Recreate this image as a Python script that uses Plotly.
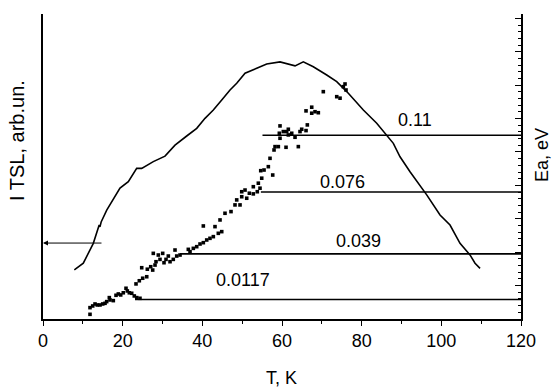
import plotly.graph_objects as go

# TSL glow curve (left axis, arbitrary units)
tsl_T = [7.86, 10.12, 12.63, 14.1, 14.3, 14.6, 16.0, 19.33, 21.42, 23.52, 24.78, 27.69, 30.63,
         33.14, 36.08, 38.59, 40.67, 42.76, 44.87, 46.95, 48.63, 50.72, 53.65, 56.16, 59.50,
         62.01, 63.27, 65.35, 67.86, 71.23, 73.74, 76.65, 80.42, 83.78, 86.29, 87.95, 89.63,
         92.14, 96.33, 99.67, 102.18, 104.69, 107.20, 108.46, 109.72]
tsl_I = [0.161, 0.183, 0.248, 0.308, 0.302, 0.318, 0.357, 0.429, 0.450, 0.494, 0.494, 0.516, 0.534,
         0.570, 0.600, 0.625, 0.658, 0.685, 0.718, 0.751, 0.773, 0.806, 0.822, 0.836, 0.843,
         0.833, 0.830, 0.843, 0.827, 0.800, 0.778, 0.740, 0.685, 0.642, 0.603, 0.576, 0.532,
         0.483, 0.407, 0.341, 0.308, 0.248, 0.210, 0.183, 0.166]

# Activation energy points (right axis, eV)
ea_T = [11.80, 11.80, 12.48, 13.06, 13.63, 14.31, 14.99, 15.57, 15.99, 16.82, 16.65, 17.65, 18.33,
        18.91, 19.51, 20.16, 20.84, 21.17, 21.67, 22.27, 22.92, 23.53, 24.35, 23.35, 24.18, 25.03,
        26.04, 24.78, 26.19, 27.04, 27.54, 28.12, 28.37, 27.69, 28.95, 29.37, 30.05, 30.38, 30.88,
        31.46, 31.89, 32.71, 33.14, 33.57, 34.40, 36.48, 36.91, 37.74, 38.59, 39.42, 40.25, 41.10,
        41.92, 42.76, 40.25, 43.18, 44.01, 44.87, 44.44, 45.69, 47.20, 48.20, 49.46, 48.63, 49.89,
        51.14, 49.89, 50.72, 51.80, 52.80, 52.80, 53.80, 54.48, 54.06, 54.91, 55.49, 54.66, 56.57,
        56.99, 57.67, 58.25, 59.08, 58.00, 61.01, 59.50, 59.33, 60.33, 61.18, 61.59, 62.44, 63.27,
        64.10, 59.50, 61.59, 64.52, 64.95, 66.03, 66.36, 66.03, 67.46, 68.29, 69.12, 67.46, 70.37,
        73.74, 74.57, 75.40, 76.07, 75.82]
ea_E = [0.0028, 0.0068, 0.0078, 0.0090, 0.0084, 0.0084, 0.0090, 0.0094, 0.0104, 0.0114, 0.0128,
        0.0110, 0.0142, 0.0150, 0.0144, 0.0157, 0.0184, 0.0168, 0.0157, 0.0154, 0.0138, 0.0128,
        0.0124, 0.0210, 0.0229, 0.0244, 0.0253, 0.0307, 0.0298, 0.0313, 0.0293, 0.0323, 0.0343,
        0.0393, 0.0383, 0.0357, 0.0393, 0.0337, 0.0357, 0.0377, 0.0343, 0.0357, 0.0413, 0.0377,
        0.0383, 0.0417, 0.0403, 0.0423, 0.0433, 0.0449, 0.0457, 0.0473, 0.0483, 0.0493, 0.0557,
        0.0553, 0.0513, 0.0523, 0.0593, 0.0633, 0.0643, 0.0683, 0.0683, 0.0713, 0.0732, 0.0723,
        0.0762, 0.0772, 0.0753, 0.0749, 0.0792, 0.0762, 0.0783, 0.0813, 0.0843, 0.0892, 0.0888,
        0.0912, 0.0962, 0.0862, 0.1032, 0.1032, 0.1012, 0.1028, 0.1082, 0.1112, 0.1122, 0.1122,
        0.1102, 0.1112, 0.1088, 0.1032, 0.1156, 0.1136, 0.1122, 0.1136, 0.1128, 0.1162, 0.1246,
        0.1232, 0.1241, 0.1235, 0.1268, 0.1361, 0.1331, 0.1322, 0.1391, 0.1371, 0.1407]

# Activation energy levels (eV), their labels and where each level line begins (K)
ea_levels = [0.0117, 0.039, 0.076, 0.11]
ea_labels = ["0.0117", "0.039", "0.076", "0.11"]
ea_line_start_T = [23.1, 34.4, 54.7, 55.1]
T_max = 120

# arrow marking the TSL level (left axis)
arrow_I = 0.249
arrow_T_from = 15.06

FONT = "Liberation Sans, Arial, sans-serif"

fig = go.Figure()
fig.add_trace(go.Scatter(x=tsl_T, y=tsl_I, mode="lines",
                         line=dict(color="black", width=1.6), yaxis="y", showlegend=False))
for lvl, start in zip(ea_levels, ea_line_start_T):
    fig.add_trace(go.Scatter(x=[start, T_max], y=[lvl, lvl], mode="lines",
                             line=dict(color="black", width=1.6), yaxis="y2", showlegend=False))
fig.add_trace(go.Scatter(x=ea_T, y=ea_E, mode="markers",
                         marker=dict(symbol="square", size=3.6, color="black", line=dict(width=0)),
                         yaxis="y2", showlegend=False))

# label placement (T, E) relative to the lines
label_pos = {"0.0117": (50.2, 0.0234), "0.039": (79.1, 0.0467),
             "0.076": (75.3, 0.082), "0.11": (93.4, 0.119)}
annotations = []
for lab in ea_labels:
    lx, ly = label_pos[lab]
    annotations.append(dict(x=lx, y=ly, xref="x", yref="y2", text=lab, showarrow=False,
                            font=dict(family=FONT, size=18, color="black"),
                            xanchor="center", yanchor="middle"))
annotations.append(dict(x=0, y=arrow_I, xref="x", yref="y", ax=arrow_T_from, ay=arrow_I,
                        axref="x", ayref="y", text="", showarrow=True, arrowhead=2,
                        arrowsize=1, arrowwidth=1, arrowcolor="black"))
annotations.append(dict(x=(17 - 43) / 478, y=(319 - 141) / 305, xref="paper", yref="paper",
                        text="I TSL, arb.un.", textangle=-90, showarrow=False,
                        font=dict(family=FONT, size=20, color="black"),
                        xanchor="center", yanchor="middle"))
annotations.append(dict(x=(542 - 43) / 478, y=(319 - 155) / 305, xref="paper", yref="paper",
                        text="Ea, eV", textangle=-90, showarrow=False,
                        font=dict(family=FONT, size=18, color="black"),
                        xanchor="center", yanchor="middle"))
annotations.append(dict(x=(281 - 43) / 478, y=(319 - 378) / 305, xref="paper", yref="paper",
                        text="T, K", showarrow=False,
                        font=dict(family=FONT, size=18, color="black"),
                        xanchor="center", yanchor="middle"))

fig.update_layout(
    width=552, height=390,
    margin=dict(l=43, r=31, t=14, b=71),
    paper_bgcolor="white", plot_bgcolor="white",
    font=dict(family=FONT, size=18, color="black"),
    xaxis=dict(range=[0, 120], showgrid=False, zeroline=False, showline=True,
               linecolor="black", linewidth=1.5, ticks="outside", ticklen=5, tickwidth=1.2,
               tickcolor="black", dtick=20, tick0=0,
               minor=dict(ticks="outside", ticklen=3, dtick=10, tickcolor="black", tickwidth=1),
               tickfont=dict(family=FONT, size=18)),
    yaxis=dict(range=[0, 1], showgrid=False, zeroline=False, showline=True,
               linecolor="black", linewidth=1.5, ticks="", showticklabels=False),
    yaxis2=dict(range=[0, 0.1826], overlaying="y", side="right", showgrid=False,
                zeroline=False, showline=True, linecolor="black", linewidth=1.5,
                ticks="inside", ticklen=6, tickwidth=1.2, tickcolor="black",
                dtick=0.02, tick0=0, showticklabels=False,
                minor=dict(ticks="inside", ticklen=3, dtick=0.004, tickcolor="black", tickwidth=1)),
    annotations=annotations,
)

fig.write_html("out.html")
